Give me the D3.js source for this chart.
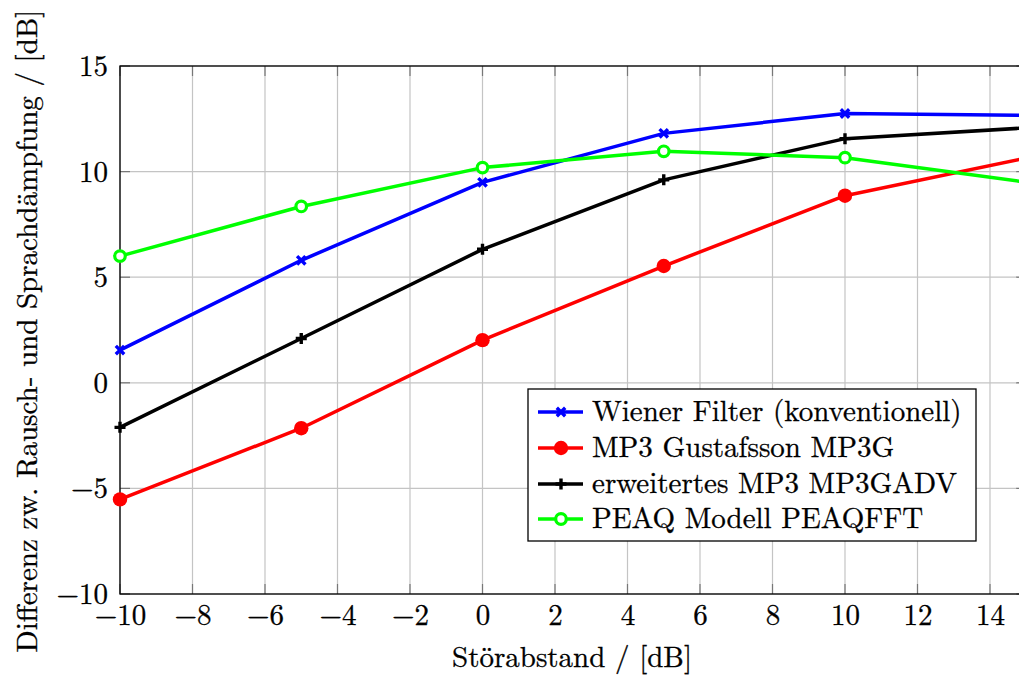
<!DOCTYPE html>
<html><head><meta charset="utf-8">
<script src="https://cdn.jsdelivr.net/npm/d3@7"></script>
<style>body{margin:0;background:#fff;overflow:hidden} text{stroke:#000;stroke-width:0.3px}</style>
</head><body><svg id="c" width="1019" height="675"></svg>
<script>
const xValues = [-10, -5, 0, 5, 10, 15];
const wiener = [1.55, 5.8, 9.49, 11.81, 12.75, 12.66];
const mp3g = [-5.52, -2.15, 2.02, 5.53, 8.86, 10.64];
const mp3gadv = [-2.11, 2.1, 6.32, 9.61, 11.56, 12.07];
const peaq = [6.0, 8.35, 10.19, 10.96, 10.66, 9.5];
const seriesNames = ["Wiener Filter (konventionell)", "MP3 Gustafsson MP3G", "erweitertes MP3 MP3GADV", "PEAQ Modell PEAQFFT"];
const xTicks = [-10, -8, -6, -4, -2, 0, 2, 4, 6, 8, 10, 12, 14];
const yTicks = [-10, -5, 0, 5, 10, 15];
const xLabel = "Störabstand / [dB]";
const yLabel = "Differenz zw. Rausch- und Sprachdämpfung / [dB]";

const FONT = "Latin Modern Roman, serif";
const FS = 29;
const LW = 3.5;
const svg = d3.select("#c");
const L = 120, T = 66, B = 594;
const x = d3.scaleLinear().domain([-10, 10]).range([L, 845]);
const y = d3.scaleLinear().domain([-10, 15]).range([B, T]);
const R = x(15);

// grid
const g = svg.append("g");
g.selectAll(".gx").data(xTicks).enter().append("line")
  .attr("x1", d => x(d)).attr("x2", d => x(d)).attr("y1", T).attr("y2", B)
  .attr("stroke", "#c4c4c4").attr("stroke-width", 1.2);
g.selectAll(".gy").data(yTicks).enter().append("line")
  .attr("x1", L).attr("x2", R).attr("y1", d => y(d)).attr("y2", d => y(d))
  .attr("stroke", "#c4c4c4").attr("stroke-width", 1.2);

// inner ticks
const tk = 10;
g.selectAll(".tb").data(xTicks).enter().append("line")
  .attr("x1", d => x(d)).attr("x2", d => x(d)).attr("y1", B).attr("y2", B - tk)
  .attr("stroke", "#777").attr("stroke-width", 1.2);
g.selectAll(".tt").data(xTicks).enter().append("line")
  .attr("x1", d => x(d)).attr("x2", d => x(d)).attr("y1", T).attr("y2", T + tk)
  .attr("stroke", "#777").attr("stroke-width", 1.2);
g.selectAll(".tl").data(yTicks).enter().append("line")
  .attr("x1", L).attr("x2", L + tk).attr("y1", d => y(d)).attr("y2", d => y(d))
  .attr("stroke", "#777").attr("stroke-width", 1.2);
g.selectAll(".tr").data(yTicks).enter().append("line")
  .attr("x1", R).attr("x2", R - tk).attr("y1", d => y(d)).attr("y2", d => y(d))
  .attr("stroke", "#777").attr("stroke-width", 1.2);

// axes via d3 for labels
const fmt = d => d < 0 ? "\u2212" + Math.abs(d) : "" + d;
const xa = svg.append("g").attr("transform", `translate(0,${B})`)
  .call(d3.axisBottom(x).tickValues(xTicks).tickFormat(fmt).tickSize(0).tickPadding(10));
xa.attr("font-family", FONT).attr("font-size", FS);
xa.select(".domain").remove();
xa.selectAll("text").attr("fill", "#000");
const ya = svg.append("g").attr("transform", `translate(${L},0)`)
  .call(d3.axisLeft(y).tickValues(yTicks).tickFormat(fmt).tickSize(0).tickPadding(12));
ya.attr("font-family", FONT).attr("font-size", FS);
ya.select(".domain").remove();
ya.selectAll("text").attr("fill", "#000").attr("dy", "0.33em");

// frame
svg.append("rect").attr("x", L).attr("y", T).attr("width", R - L).attr("height", B - T)
  .attr("fill", "none").attr("stroke", "#000").attr("stroke-width", 1.3);

const series = [
  {name: seriesNames[0], vals: wiener, color: "#0000ff", mark: "x"},
  {name: seriesNames[1], vals: mp3g, color: "#ff0000", mark: "dot"},
  {name: seriesNames[2], vals: mp3gadv, color: "#000000", mark: "plus"},
  {name: seriesNames[3], vals: peaq, color: "#00ff00", mark: "ring"}
];

function drawMark(sel, mark, color, cx, cy) {
  if (mark === "dot") {
    sel.append("circle").attr("cx", cx).attr("cy", cy).attr("r", 7.2).attr("fill", color);
  } else if (mark === "ring") {
    sel.append("circle").attr("cx", cx).attr("cy", cy).attr("r", 5.3).attr("fill", "#fff")
      .attr("stroke", color).attr("stroke-width", 3.2);
  } else if (mark === "plus") {
    const s = 5.5;
    sel.append("path").attr("d", `M${cx - s},${cy}H${cx + s}M${cx},${cy - s}V${cy + s}`)
      .attr("stroke", color).attr("stroke-width", 3.4);
  } else {
    const s = 4.2;
    sel.append("path").attr("d", `M${cx - s},${cy - s}L${cx + s},${cy + s}M${cx - s},${cy + s}L${cx + s},${cy - s}`)
      .attr("stroke", color).attr("stroke-width", 3.4);
  }
}

const line = d3.line().x((d, i) => x(xValues[i])).y(d => y(d));
const plot = svg.append("g");
series.forEach(s => {
  plot.append("path").attr("d", line(s.vals)).attr("fill", "none")
    .attr("stroke", s.color).attr("stroke-width", LW).attr("stroke-linejoin", "round");
});
series.forEach(s => {
  s.vals.forEach((v, i) => drawMark(plot, s.mark, s.color, x(xValues[i]), y(v)));
});

// legend
const lg = svg.append("g").attr("font-family", FONT).attr("font-size", FS);
lg.append("rect").attr("x", 528).attr("y", 389).attr("width", 448).attr("height", 152)
  .attr("fill", "#fff").attr("stroke", "#000").attr("stroke-width", 1.3);
const rowY = [412, 448, 484, 519];
series.forEach((s, i) => {
  const cy = rowY[i];
  lg.append("line").attr("x1", 538).attr("x2", 583).attr("y1", cy).attr("y2", cy)
    .attr("stroke", s.color).attr("stroke-width", LW);
  drawMark(lg, s.mark, s.color, 561, cy);
  lg.append("text").attr("x", 592).attr("y", cy + 9).attr("fill", "#000").text(s.name);
});

// axis labels
svg.append("text").attr("x", 572).attr("y", 667).attr("text-anchor", "middle")
  .attr("font-family", FONT).attr("font-size", FS).attr("fill", "#000").text(xLabel);
svg.append("text").attr("transform", "translate(37,331) rotate(-90)").attr("text-anchor", "middle")
  .attr("font-family", FONT).attr("font-size", FS).attr("fill", "#000").text(yLabel);
</script></body></html>
